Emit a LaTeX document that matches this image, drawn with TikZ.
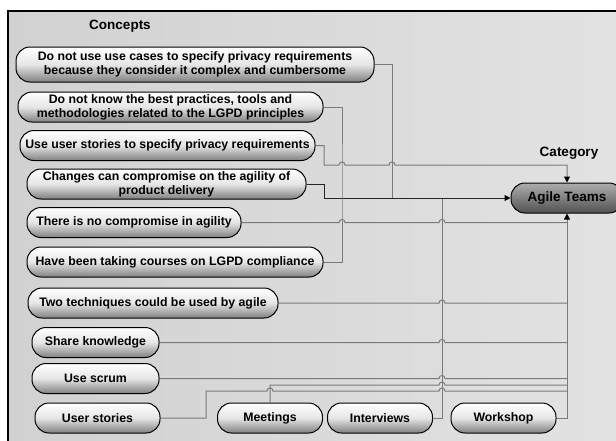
\documentclass[tikz,border=0pt]{standalone}
\usepackage{fontspec}
\setmainfont{Liberation Sans}
\usetikzlibrary{arrows.meta}
% small jump where a horizontal line crosses a vertical one
\newcommand{\hop}[2]{-- ({#1-3},#2) .. controls ({#1-3},{#2-4}) and ({#1+3},{#2-4}) .. ({#1+3},#2)}

\begin{document}
\begin{tikzpicture}[x=1pt,y=-1pt,
  pill/.style={draw,line width=1pt,rounded corners=14pt,inner xsep=2pt,inner ysep=0pt,
    minimum height=30pt,top color=white,bottom color=black!50,middle color=black!10,
    font=\bfseries\fontsize{12.3}{14}\selectfont,align=center},
  link/.style={draw=black!52,line width=1pt},
  tip/.style={-{Triangle[length=6pt,width=6pt,color=black]}},
  heading/.style={font=\bfseries\fontsize{13.5}{16}\selectfont}]
  \useasboundingbox (0,0) rectangle (616,440);
  \clip (0,0) rectangle (616,440);
  % frame
  \draw[line width=1.2pt,left color=black!18,right color=black!11] (8,11) rectangle (640,460);
  \node[heading] (concepts) at (120,26) {Concepts};
  \node[heading] (cat) at (569,153) {Category};
  % concepts
  \node[pill,minimum width=358pt,minimum height=35pt] (c1) at (195,64.5)
    {Do not use use cases to specify privacy requirements\\because they consider it complex and cumbersome};
  \node[pill,minimum width=305pt] (c2) at (170.5,107)
    {Do not know the best practices, tools and\\methodologies related to the LGPD principles};
  \node[pill,minimum width=295pt] (c3) at (167.5,145.5) {Use user stories to specify privacy requirements};
  \node[pill,minimum width=279pt] (c4) at (166.5,184)
    {Changes can compromise on the agility of\\product delivery};
  \node[pill,minimum width=214pt] (c5) at (134,222.5) {There is no compromise in agility};
  \node[pill,minimum width=296pt] (c6) at (175,262) {Have been taking courses on LGPD compliance};
  \node[pill,minimum width=250pt] (c7) at (153,303) {Two techniques could be used by agile};
  \node[pill,minimum width=127pt] (c8) at (95.5,342.5) {Share knowledge};
  \node[pill,minimum width=127pt] (c9) at (95.5,378.5) {Use scrum};
  \node[pill,minimum width=125pt] (c10) at (97.5,418) {User stories};
  \foreach \n/\x/\l in {meet/270/Meetings,intv/380/Interviews,wshop/503.5/Workshop}
    \node[pill,minimum width=105pt] (\n) at (\x,418) {\l};
  % category
  \node[pill,minimum width=112pt,top color=black!32,bottom color=black!68,middle color=black!50,
    font=\bfseries\fontsize{13.5}{16}\selectfont] (agile) at (567,198) {Agile Teams};
  % into the left side
  \draw[link] (c1.east) -| (392,198);
  \draw[link] (intv.east) -| (442,198);
  \draw[link,draw=black!85,tip] (c4.east) -- (324,184) |- (agile.west);
  % into the top
  \draw[link,tip] (c3.east) -- (324,145.5) -- (324,165) \hop{342}{165} \hop{392}{165} -| (agile.north);
  \draw[link] (c2.east) -| (342,180) |- (c6.east);
  % into the bottom
  \draw[link,tip] (wshop.east) -| (agile.south);
  \draw[link] (c5.east) \hop{342}{222.5} \hop{442}{222.5} -- (567,222.5);
  \foreach \n/\y in {c7/303,c8/342.5,c9/378.5}
    \draw[link] (\n.east) \hop{442}{\y} -- (567,\y);
  \draw[link] (meet.north) -- (270,385) \hop{442}{385} -- (567,385);
  \draw[link] (c10.east) -- (206,418) -- (206,391) \hop{270}{391} \hop{442}{391} -- (567,391);
\end{tikzpicture}
\end{document}
